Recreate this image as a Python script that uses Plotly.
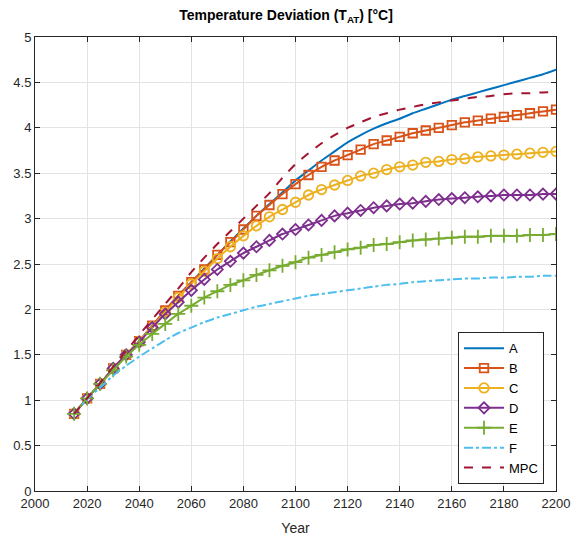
import plotly.graph_objects as go

years = list(range(2015, 2201, 5))

A = [0.85, 1.02, 1.18, 1.35, 1.50, 1.65, 1.82, 1.99, 2.15, 2.30, 2.45, 2.60, 2.75, 2.89, 3.03, 3.16, 3.29,
     3.42, 3.53, 3.64, 3.74, 3.84, 3.92, 3.99, 4.05, 4.10, 4.16, 4.21, 4.26, 4.31, 4.35, 4.39, 4.43,
     4.47, 4.51, 4.55, 4.59, 4.64]
B = [0.85, 1.02, 1.18, 1.35, 1.50, 1.65, 1.82, 1.99, 2.15, 2.30, 2.44, 2.60, 2.74, 2.88, 3.03, 3.15, 3.27,
     3.38, 3.48, 3.57, 3.64, 3.70, 3.76, 3.82, 3.86, 3.90, 3.94, 3.97, 4.00, 4.03, 4.06, 4.08, 4.10,
     4.12, 4.14, 4.16, 4.18, 4.20]
C = [0.85, 1.02, 1.18, 1.35, 1.50, 1.65, 1.81, 1.97, 2.13, 2.28, 2.42, 2.56, 2.69, 2.81, 2.92, 3.02, 3.10,
     3.18, 3.26, 3.32, 3.37, 3.42, 3.47, 3.50, 3.54, 3.57, 3.59, 3.62, 3.63, 3.65, 3.66, 3.68, 3.69,
     3.70, 3.71, 3.72, 3.73, 3.74]
D = [0.85, 1.02, 1.18, 1.35, 1.50, 1.64, 1.80, 1.95, 2.08, 2.21, 2.33, 2.44, 2.53, 2.62, 2.69, 2.76, 2.83,
     2.88, 2.93, 2.98, 3.03, 3.06, 3.09, 3.12, 3.14, 3.16, 3.17, 3.19, 3.21, 3.22, 3.23, 3.24, 3.25,
     3.26, 3.26, 3.26, 3.27, 3.27]
E = [0.85, 1.02, 1.18, 1.33, 1.48, 1.61, 1.73, 1.84, 1.95, 2.04, 2.13, 2.20, 2.27, 2.32, 2.38, 2.43, 2.48,
     2.52, 2.57, 2.60, 2.63, 2.66, 2.68, 2.71, 2.72, 2.74, 2.76, 2.77, 2.78, 2.79, 2.80, 2.80, 2.81,
     2.81, 2.81, 2.82, 2.82, 2.83]
F = [0.85, 1.01, 1.14, 1.27, 1.38, 1.48, 1.57, 1.66, 1.74, 1.80, 1.86, 1.91, 1.95, 1.99, 2.03, 2.06, 2.09,
     2.12, 2.15, 2.17, 2.19, 2.21, 2.23, 2.25, 2.27, 2.28, 2.30, 2.31, 2.32, 2.33, 2.34, 2.34, 2.35,
     2.35, 2.36, 2.36, 2.37, 2.37]
MPC = [0.85, 1.02, 1.19, 1.37, 1.54, 1.72, 1.89, 2.06, 2.23, 2.41, 2.57, 2.72, 2.86, 3.00, 3.14, 3.28, 3.45,
       3.60, 3.72, 3.83, 3.92, 4.00, 4.06, 4.12, 4.16, 4.20, 4.23, 4.26, 4.28, 4.30, 4.32, 4.34, 4.35,
       4.37, 4.38, 4.38, 4.39, 4.39]

series = [
    ("A", A, "#0072BD", "solid", None, 0),
    ("B", B, "#D95319", "solid", "square-open", 8.5),
    ("C", C, "#EDB120", "solid", "circle-open", 9.5),
    ("D", D, "#7E2F8E", "solid", "diamond-open", 8.5),
    ("E", E, "#77AC30", "solid", "cross-thin-open", 10),
    ("F", F, "#4DBEEE", "dashdot", None, 0),
    ("MPC", MPC, "#A2142F", "dash", None, 0),
]

FONT = "Liberation Sans, Arial, sans-serif"

fig = go.Figure()
for name, vals, color, dash, sym, msize in series:
    if sym:
        fig.add_trace(go.Scatter(
            x=years, y=vals, name=name, mode="lines+markers",
            line=dict(color=color, width=2, dash=dash, shape="spline", smoothing=0.6),
            marker=dict(symbol=sym, size=msize, color=color, line=dict(color=color, width=1.8)),
        ))
    else:
        fig.add_trace(go.Scatter(
            x=years, y=vals, name=name, mode="lines",
            line=dict(color=color, width=2, dash=dash, shape="spline", smoothing=0.6),
        ))

axis_common = dict(
    showline=True, linecolor="#262626", linewidth=1, mirror="allticks",
    ticks="inside", ticklen=5, tickcolor="#262626",
    showgrid=True, gridcolor="#e3e3e3", gridwidth=1, zeroline=False,
    automargin=False,
    tickfont=dict(family=FONT, size=13, color="#262626"),
)

fig.update_layout(
    width=572, height=538,
    margin=dict(l=35, r=16, t=37, b=47),
    paper_bgcolor="white", plot_bgcolor="white",
    title=dict(text="<b>Temperature Deviation (T<sub>AT</sub>) [°C]</b>",
               x=0.5, xanchor="center", y=0.981, yanchor="top",
               font=dict(family=FONT, size=14, color="black")),
    xaxis=dict(range=[2000, 2200], dtick=20, tick0=2000,
               title=dict(text="Year", standoff=13,
                          font=dict(family=FONT, size=14, color="#262626")),
               **axis_common),
    yaxis=dict(range=[0, 5], dtick=0.5, tick0=0, **axis_common),
    legend=dict(x=0.977, y=0.015, xanchor="right", yanchor="bottom",
                bgcolor="white", bordercolor="#262626", borderwidth=1,
                font=dict(family=FONT, size=13, color="black"),
                itemwidth=40, tracegroupgap=0),
    showlegend=True,
)

fig.write_html(
    "out.html",
    config={"displayModeBar": False},
    post_script="document.body.style.margin='0';document.body.style.overflow='hidden';",
)
